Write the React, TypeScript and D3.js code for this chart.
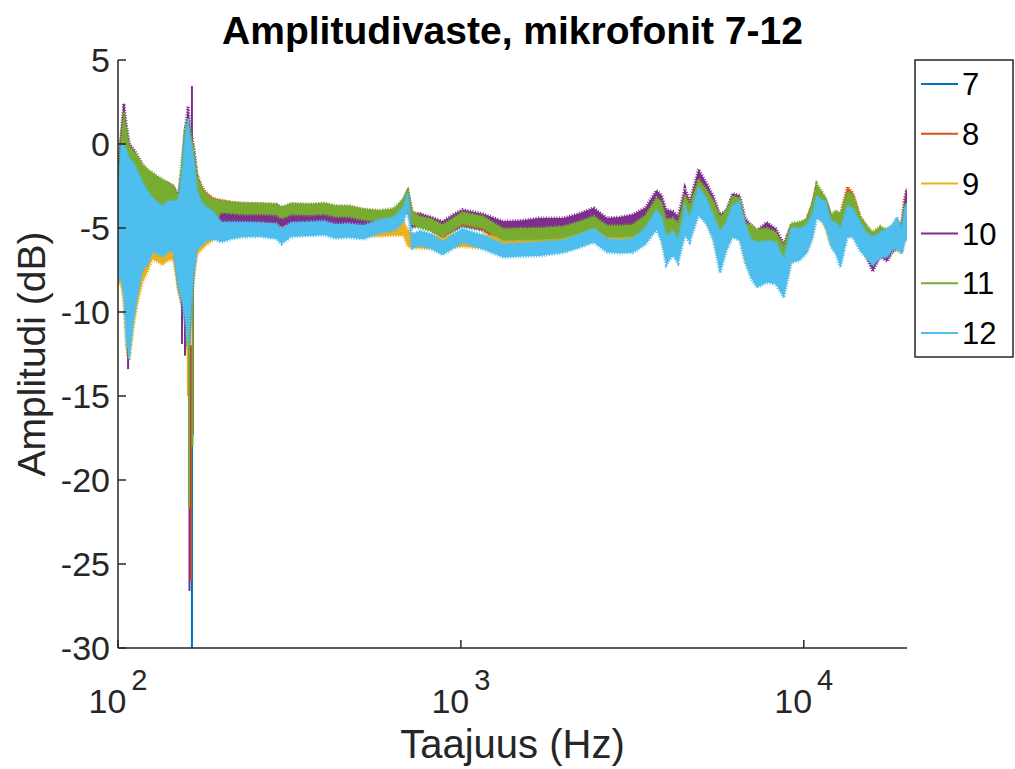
import React from 'react';
import * as d3 from 'd3';

// shared frequency grid (Hz)
const freqs = [
  100, 102, 104, 106, 108, 111, 114, 118, 122, 126, 130, 135, 140, 145, 150,
  154, 157, 160, 163, 166, 170, 175, 180, 190, 200, 215, 230,
  260, 290, 300, 320, 360, 400, 430, 470, 520, 580, 640, 680, 700, 720, 760,
  820, 885, 950, 1010, 1160, 1330, 1500, 1690, 1990, 2200, 2440, 2670, 2900, 3170, 3450,
  3720, 3850, 3970, 4150, 4300, 4500, 4650, 4930, 5200, 5450, 5700, 5950, 6200, 6500, 6750,
  7000, 7300, 7800, 8300, 8750, 9200, 9700, 10200, 10600, 10900, 11300, 11600, 12000, 12400, 12800,
  13400, 13900, 14600, 15200, 15900, 16700, 17500, 18100, 18700, 19300, 19700, 20000,
];

// band centre per microphone (dB)
const mic7 = [
  -4.6, -3.2, -2.6, -4.7, -6.0, -5.2, -4.7, -4.0, -3.9, -3.5, -3.65, -3.8, -3.9, -4.1, -5.9,
  -5.6, -5.0, -5.5, -4.9, -3.9, -3.75, -3.9, -4.0, -4.05, -3.75, -3.85, -3.9,
  -3.9, -3.95, -4.15, -3.95, -3.95, -3.9, -4.05, -4.05, -4.25, -4.35, -4.25, -3.7, -3.2, -4.5, -4.6,
  -4.8, -5.25, -4.85, -4.55, -4.8, -5.6, -5.5, -5.5, -5.4, -5.15, -4.85, -5.35, -5.4, -5.35, -4.85,
  -3.95, -4.35, -5.35, -5.25, -5.45, -3.85, -4.45, -2.95, -3.55, -4.25, -5.15, -4.85, -3.95, -4.05, -5.55,
  -5.75, -6.15, -6.05, -6.3, -7.05, -5.65, -5.55, -5.25, -4.35, -3.2, -3.6, -4.05, -5.0, -4.9, -5.1,
  -3.7, -3.9, -5.05, -5.65, -6.3, -5.8, -6.0, -5.7, -5.4, -5.6, -4.4, -3.9,
];
const mic8 = [
  -4.4, -3.1, -2.5, -4.6, -5.9, -5.1, -4.6, -3.9, -3.8, -3.4, -3.6, -3.75, -3.85, -4.0, -5.8,
  -5.5, -4.9, -5.3, -4.7, -3.8, -3.6, -3.75, -3.85, -3.95, -3.7, -3.8, -3.85,
  -3.9, -3.95, -4.15, -3.9, -3.95, -3.9, -4.05, -4.05, -4.25, -4.35, -4.25, -3.7, -3.2, -4.45, -4.5,
  -4.75, -5.2, -4.8, -4.5, -4.75, -5.55, -5.45, -5.45, -5.35, -5.1, -4.8, -5.3, -5.35, -5.3, -4.8,
  -3.9, -4.3, -5.3, -5.2, -5.4, -3.8, -4.4, -2.9, -3.5, -4.2, -5.1, -4.8, -3.9, -4.0, -5.5,
  -5.7, -6.1, -6.0, -6.2, -7.0, -5.6, -5.5, -5.2, -4.3, -3.1, -3.55, -4.0, -4.9, -4.8, -5.0,
  -3.3, -3.6, -5.0, -5.6, -6.2, -5.7, -5.9, -5.6, -5.3, -5.4, -3.9, -3.4,
];
const mic9 = [
  -5.8, -4.3, -5.0, -6.5, -7.0, -6.1, -5.8, -5.6, -5.4, -5.25, -5.45, -5.7, -5.4, -5.4, -6.2,
  -5.8, -5.5, -5.8, -5.3, -4.6, -4.8, -5.0, -5.0, -4.9, -4.75, -4.85, -4.85,
  -4.9, -4.95, -5.2, -4.9, -4.9, -4.85, -5.0, -4.95, -5.05, -5.1, -5.05, -5.0, -5.6, -5.8, -5.75,
  -5.8, -6.0, -5.75, -5.7, -5.8, -5.95, -5.9, -5.9, -5.85, -5.7, -5.3, -5.9, -5.85, -5.75, -5.3,
  -4.3, -4.9, -6.0, -5.7, -6.1, -4.3, -4.9, -3.2, -3.9, -4.8, -6.0, -5.3, -4.4, -4.5, -5.9,
  -6.6, -6.9, -6.7, -7.0, -7.6, -5.9, -5.9, -5.55, -4.7, -3.5, -3.9, -4.3, -5.3, -5.4, -5.8,
  -4.3, -4.5, -5.4, -6.0, -6.5, -5.9, -6.0, -5.7, -5.4, -5.7, -4.6, -4.4,
];
const mic10 = [
  -4.0, -2.8, -1.9, -4.3, -5.7, -4.9, -4.5, -3.9, -3.8, -3.4, -3.55, -3.7, -3.85, -4.05, -5.8,
  -5.5, -4.7, -4.5, -4.4, -3.7, -3.8, -3.95, -4.1, -4.3, -4.3, -4.3, -4.35,
  -4.35, -4.4, -4.6, -4.35, -4.35, -4.3, -4.45, -4.4, -4.55, -4.6, -4.5, -3.9, -3.5, -4.6, -4.5,
  -4.7, -4.95, -4.55, -4.25, -4.5, -4.95, -4.9, -4.75, -4.75, -4.5, -4.15, -4.75, -4.7, -4.55, -4.2,
  -3.25, -3.6, -4.5, -4.6, -4.9, -3.2, -4.0, -2.1, -2.9, -3.7, -4.85, -4.6, -3.55, -3.75, -5.1,
  -5.6, -6.0, -5.5, -5.9, -6.8, -5.6, -5.5, -5.2, -4.3, -3.2, -3.6, -4.1, -5.0, -5.2, -5.4,
  -4.0, -4.2, -5.2, -6.0, -6.85, -6.0, -6.3, -5.8, -5.5, -5.6, -4.1, -3.5,
];
const mic11 = [
  -4.5, -3.0, -2.4, -4.5, -5.8, -5.0, -4.5, -3.8, -3.7, -3.3, -3.45, -3.6, -3.8, -4.0, -5.7,
  -4.7, -4.5, -5.25, -4.6, -3.8, -3.7, -3.8, -3.95, -4.0, -3.72, -3.8, -3.85,
  -3.85, -3.9, -4.1, -3.87, -3.9, -3.85, -4.0, -4.0, -4.2, -4.27, -4.15, -3.6, -3.1, -4.4, -4.65,
  -4.8, -5.15, -4.75, -4.4, -4.65, -5.4, -5.35, -5.35, -5.25, -5.0, -4.65, -5.2, -5.2, -5.15, -4.65,
  -3.7, -4.0, -5.1, -5.0, -5.3, -3.6, -4.2, -2.7, -3.3, -4.0, -5.0, -4.6, -3.7, -3.9, -5.4,
  -5.6, -5.95, -5.85, -6.1, -6.95, -5.45, -5.35, -5.1, -4.1, -2.95, -3.45, -3.9, -4.9, -4.7, -5.0,
  -3.6, -3.7, -4.95, -5.5, -6.0, -5.6, -5.8, -5.5, -5.3, -5.6, -4.5, -4.3,
];
const mic12 = [
  -5.5, -4.0, -4.5, -6.2, -6.75, -5.8, -5.3, -4.9, -5.0, -4.8, -5.0, -5.2, -4.9, -4.9, -5.9,
  -5.5, -5.0, -5.25, -5.0, -4.25, -4.5, -4.75, -4.75, -4.85, -5.25, -5.15, -5.1,
  -5.1, -5.2, -5.5, -5.1, -5.05, -5.0, -5.2, -5.15, -5.25, -4.9, -4.75, -4.2, -3.4, -5.8, -5.6,
  -5.8, -6.2, -5.8, -5.45, -5.85, -6.35, -6.3, -6.25, -6.1, -5.8, -5.45, -6.05, -6.1, -6.05, -5.5,
  -4.5, -5.1, -6.35, -5.9, -6.4, -4.6, -5.1, -3.4, -4.0, -5.0, -6.45, -5.5, -4.6, -4.6, -5.9,
  -6.8, -7.2, -7.0, -7.1, -8.0, -6.0, -6.0, -5.65, -4.9, -3.75, -4.0, -4.2, -5.35, -5.6, -6.2,
  -4.6, -4.7, -5.5, -6.0, -6.4, -6.0, -5.9, -5.6, -5.3, -5.8, -4.8, -4.6,
];

// half-width of the noise band (dB): mics 7, 8, 10, 11 / mics 9, 12
const spreadA = [
  2.3, 3.2, 4.3, 5.3, 5.7, 4.6, 3.8, 2.6, 2.2, 1.6, 1.55, 1.5, 1.5, 1.5, 2.6,
  4.0, 5.5, 6.75, 5.2, 3.6, 1.8, 1.3, 1.0, 0.7, 0.35, 0.33, 0.33,
  0.33, 0.33, 0.33, 0.33, 0.33, 0.33, 0.33, 0.33, 0.33, 0.33, 0.33, 0.35, 0.4, 0.38, 0.35,
  0.35, 0.35, 0.35, 0.35, 0.35, 0.35, 0.35, 0.35, 0.35, 0.35, 0.35, 0.35, 0.35, 0.35, 0.4,
  0.5, 0.55, 0.6, 0.6, 0.6, 0.6, 0.6, 0.6, 0.6, 0.6, 0.65, 0.65, 0.6, 0.7, 0.7,
  0.8, 0.85, 0.85, 0.85, 0.85, 0.75, 0.7, 0.65, 0.65, 0.6, 0.6, 0.65, 0.65, 0.75, 0.85,
  0.75, 0.7, 0.65, 0.7, 0.75, 0.7, 0.7, 0.65, 0.65, 0.7, 0.75, 0.75,
];
const spreadB = [
  2.5, 4.0, 4.5, 5.8, 5.85, 4.7, 3.7, 2.6, 2.2, 1.6, 1.55, 1.5, 1.5, 1.5, 2.6,
  4.0, 5.5, 6.75, 5.2, 3.6, 1.8, 1.3, 1.05, 0.8, 0.6, 0.5, 0.45,
  0.42, 0.45, 0.45, 0.42, 0.42, 0.42, 0.42, 0.42, 0.42, 0.4, 0.4, 0.45, 0.5, 0.4, 0.45,
  0.45, 0.4, 0.42, 0.42, 0.42, 0.4, 0.4, 0.42, 0.38, 0.4, 0.42, 0.4, 0.4, 0.42, 0.5,
  0.6, 0.75, 0.85, 0.75, 0.7, 0.85, 0.75, 0.85, 0.75, 0.75, 1.25, 0.85, 0.95, 1.15, 1.15,
  1.15, 1.35, 1.25, 1.25, 1.15, 1.05, 0.95, 0.85, 0.75, 0.65, 0.65, 0.75, 0.75, 0.95, 1.15,
  0.95, 0.85, 0.85, 0.75, 0.85, 0.75, 0.85, 0.75, 0.95, 0.75, 1.05, 1.05,
];

// narrow spikes: [Hz, min dB, max dB]
const spikes7 = [[164.3, -30, -12]];
const spikes8 = [[163.2, -26, -12]];
const spikes9 = [[159.9, -15, -9], [106.5, -12.6, -9]];
const spikes10 = [[153.7, -11.9, -6], [156.8, -12.6, -6], [161.6, -26.6, -10], [165.4, -17.3, -8], [164.3, -3, 3.45], [107, -13.4, -9], [104, -2, 2.4]];
const spikes11 = [[161.2, -21.7, -10], [165.0, -18, -8]];
const spikes12 = [[107.5, -12.8, -8]];

const names = ['7', '8', '9', '10', '11', '12'];
const colors = ['#0072BD', '#D95319', '#EDB120', '#7E2F8E', '#77AC30', '#4DBEEE'];
const yTicks = [5, 0, -5, -10, -15, -20, -25, -30];
const xTicks = [100, 1000, 10000];

const FONT = 'Liberation Sans, Arial, Helvetica, sans-serif';

export default function App() {
  const W = 1015;
  const H = 769;
  const left = 118, right = 907, top = 60, bottom = 648;

  const x = d3.scaleLog().domain([100, 20000]).range([left, right]);
  const y = d3.scaleLinear().domain([-30, 5]).range([bottom, top]);

  const series = [
    { mid: mic7, spread: spreadA, spikes: spikes7 },
    { mid: mic8, spread: spreadA, spikes: spikes8 },
    { mid: mic9, spread: spreadB, spikes: spikes9 },
    { mid: mic10, spread: spreadA, spikes: spikes10 },
    { mid: mic11, spread: spreadA, spikes: spikes11 },
    { mid: mic12, spread: spreadB, spikes: spikes12 },
  ];

  const bandPath = (mid: number[], spread: number[]) =>
    d3.area<number>()
      .x((_, i) => x(freqs[i]))
      .y0((d, i) => y(d - spread[i]))
      .y1((d, i) => y(d + spread[i]))(mid) as string;

  const axisColor = '#262626';
  const legendRow = (i: number) => 84 + i * 49.8;

  return (
    <svg width={W} height={H} style={{ position: 'absolute', left: 0, top: 0, background: '#fff' }} fontFamily={FONT}>
      <rect width={W} height={H} fill="#fff" />
      <defs>
        <clipPath id="plotClip">
          <rect x={left} y={top} width={right - left} height={bottom - top} />
        </clipPath>
      </defs>

      <g clipPath="url(#plotClip)">
        {series.map((s, k) => {
          const d = bandPath(s.mid, s.spread);
          return (
            <g key={k}>
              <path d={d} fill={colors[k]} stroke="none" />
              {/* ragged edge to suggest the dense noisy trace */}
              <path d={d} fill="none" stroke={colors[k]} strokeWidth={3} strokeDasharray="1 1.6" />
              {s.spikes.map((sp, j) => (
                <line key={j} x1={x(sp[0])} x2={x(sp[0])} y1={y(sp[1])} y2={y(sp[2])} stroke={colors[k]} strokeWidth={2} />
              ))}
            </g>
          );
        })}
      </g>

      {/* axes */}
      <line x1={left} x2={left} y1={top} y2={bottom} stroke={axisColor} strokeWidth={1.5} />
      <line x1={left} x2={right} y1={bottom} y2={bottom} stroke={axisColor} strokeWidth={1.5} />
      {yTicks.map((t) => (
        <g key={t}>
          <line x1={left} x2={left + 8} y1={y(t)} y2={y(t)} stroke={axisColor} strokeWidth={1.5} />
          <text x={left - 8} y={y(t)} dy="0.36em" textAnchor="end" fontSize={34} fill={axisColor}>{t}</text>
        </g>
      ))}
      {xTicks.map((t) => (
        <g key={t}>
          <line x1={x(t)} x2={x(t)} y1={bottom} y2={bottom - 8} stroke={axisColor} strokeWidth={1.5} />
          <text x={x(t)} y={713} textAnchor="middle" fill={axisColor}>
            <tspan fontSize={34}>10</tspan>
            <tspan fontSize={29} dx={5} dy={-23}>{Math.log10(t)}</tspan>
          </text>
        </g>
      ))}

      <text x={(left + right) / 2} y={758} textAnchor="middle" fontSize={40} fill={axisColor}>Taajuus (Hz)</text>
      <text transform={`translate(45, ${(top + bottom) / 2}) rotate(-90)`} textAnchor="middle" fontSize={39} fill={axisColor}>Amplitudi (dB)</text>
      <text x={(left + right) / 2} y={44} textAnchor="middle" fontSize={39} fontWeight="bold" fill="#000">Amplitudivaste, mikrofonit 7-12</text>

      {/* legend */}
      <rect x={915} y={60} width={98} height={297} fill="#fff" stroke={axisColor} strokeWidth={1.5} />
      {names.map((n, i) => (
        <g key={n}>
          <line x1={921} x2={958} y1={legendRow(i)} y2={legendRow(i)} stroke={colors[i]} strokeWidth={2} />
          <text x={962} y={legendRow(i)} dy="0.36em" fontSize={31} fill="#000">{n}</text>
        </g>
      ))}
    </svg>
  );
}
